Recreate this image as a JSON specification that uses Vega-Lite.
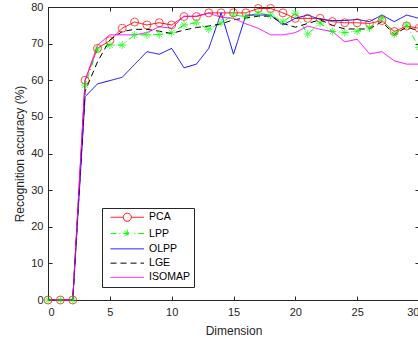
{
  "$schema": "https://vega.github.io/schema/vega-lite/v6.json",
  "width": 371,
  "height": 293,
  "autosize": {"type": "none"},
  "padding": {"left": 48, "top": 7, "right": 0, "bottom": 41},
  "background": "white",
  "config": {
    "view": {"stroke": "#262626", "strokeWidth": 1},
    "font": "Liberation Sans",
    "axis": {
      "domainColor": "#262626",
      "tickColor": "#262626",
      "labelColor": "#262626",
      "titleColor": "#262626",
      "labelFont": "Liberation Sans",
      "titleFont": "Liberation Sans",
      "labelFontSize": 11,
      "titleFontSize": 12,
      "titleFontWeight": "normal",
      "grid": false,
      "tickSize": -4,
      "tickWidth": 1,
      "domainWidth": 1
    }
  },
  "data": {
    "values": [
      {"d": 0, "PCA": 0, "LPP": 0, "OLPP": 0, "LGE": 0, "ISOMAP": 0},
      {"d": 1, "PCA": 0, "LPP": 0, "OLPP": 0, "LGE": 0, "ISOMAP": 0},
      {"d": 2, "PCA": 0, "LPP": 0, "OLPP": 0, "LGE": 0, "ISOMAP": 0},
      {"d": 3, "PCA": 60, "LPP": 58.7, "OLPP": 55.5, "LGE": 57, "ISOMAP": 60},
      {"d": 4, "PCA": 68.7, "LPP": 68.5, "OLPP": 59, "LGE": 65, "ISOMAP": 69.6},
      {"d": 5, "PCA": 70.8, "LPP": 69.6, "OLPP": 59.9, "LGE": 71, "ISOMAP": 72.4},
      {"d": 6, "PCA": 74.2, "LPP": 69.6, "OLPP": 60.8, "LGE": 73.3, "ISOMAP": 72.4},
      {"d": 7, "PCA": 75.9, "LPP": 72.4, "OLPP": 64.3, "LGE": 73.9, "ISOMAP": 72.4},
      {"d": 8, "PCA": 75.1, "LPP": 72.4, "OLPP": 67.8, "LGE": 73.9, "ISOMAP": 73},
      {"d": 9, "PCA": 75.7, "LPP": 72.5, "OLPP": 67.1, "LGE": 73.4, "ISOMAP": 74.6},
      {"d": 10, "PCA": 75.1, "LPP": 73, "OLPP": 68.7, "LGE": 72.8, "ISOMAP": 74.2},
      {"d": 11, "PCA": 77.4, "LPP": 75.1, "OLPP": 63.4, "LGE": 73.7, "ISOMAP": 77.5},
      {"d": 12, "PCA": 77.4, "LPP": 75.7, "OLPP": 64.4, "LGE": 74.4, "ISOMAP": 77.5},
      {"d": 13, "PCA": 78.4, "LPP": 73.9, "OLPP": 68.7, "LGE": 74.8, "ISOMAP": 78.3},
      {"d": 14, "PCA": 78.4, "LPP": 75.7, "OLPP": 78.4, "LGE": 75.4, "ISOMAP": 77.2},
      {"d": 15, "PCA": 78.4, "LPP": 77.8, "OLPP": 67.1, "LGE": 76.5, "ISOMAP": 76.9},
      {"d": 16, "PCA": 78.4, "LPP": 77.4, "OLPP": 77.8, "LGE": 77, "ISOMAP": 75.4},
      {"d": 17, "PCA": 79.6, "LPP": 78.3, "OLPP": 77.8, "LGE": 77.5, "ISOMAP": 74.2},
      {"d": 18, "PCA": 79.6, "LPP": 77.8, "OLPP": 77.8, "LGE": 77.5, "ISOMAP": 72.4},
      {"d": 19, "PCA": 78.4, "LPP": 76, "OLPP": 75.1, "LGE": 75.5, "ISOMAP": 72.4},
      {"d": 20, "PCA": 76.9, "LPP": 78.3, "OLPP": 76.9, "LGE": 74.5, "ISOMAP": 73},
      {"d": 21, "PCA": 76.9, "LPP": 72.6, "OLPP": 77.8, "LGE": 75.5, "ISOMAP": 74.8},
      {"d": 22, "PCA": 76.9, "LPP": 75.6, "OLPP": 76.6, "LGE": 76.5, "ISOMAP": 73.9},
      {"d": 23, "PCA": 76, "LPP": 73.3, "OLPP": 76.3, "LGE": 75, "ISOMAP": 73.3},
      {"d": 24, "PCA": 75.7, "LPP": 73, "OLPP": 76.3, "LGE": 74, "ISOMAP": 70.5},
      {"d": 25, "PCA": 75.7, "LPP": 73.4, "OLPP": 76.6, "LGE": 74, "ISOMAP": 71.2},
      {"d": 26, "PCA": 75.5, "LPP": 74.3, "OLPP": 76, "LGE": 74, "ISOMAP": 67.2},
      {"d": 27, "PCA": 76.3, "LPP": 77, "OLPP": 77.8, "LGE": 76, "ISOMAP": 67.8},
      {"d": 28, "PCA": 73.3, "LPP": 72.6, "OLPP": 76, "LGE": 72.5, "ISOMAP": 65.3},
      {"d": 29, "PCA": 74.8, "LPP": 75.1, "OLPP": 77.8, "LGE": 74.5, "ISOMAP": 64.4},
      {"d": 30, "PCA": 74.2, "LPP": 68.9, "OLPP": 76.9, "LGE": 73.5, "ISOMAP": 64.4}
    ]
  },
  "transform": [
    {"fold": ["PCA", "LPP", "OLPP", "LGE", "ISOMAP"], "as": ["method", "acc"]}
  ],
  "layer": [
    {
      "mark": {"type": "line", "strokeWidth": 1, "clip": false},
      "encoding": {
        "x": {
          "field": "d", "type": "quantitative",
          "scale": {"domain": [0, 30], "nice": false, "zero": false},
          "axis": {"values": [0, 5, 10, 15, 20, 25, 30], "title": "Dimension", "labelPadding": 10, "titlePadding": 8}
        },
        "y": {
          "field": "acc", "type": "quantitative",
          "scale": {"domain": [0, 80], "nice": false},
          "axis": {"values": [0, 10, 20, 30, 40, 50, 60, 70, 80], "title": "Recognition accuracy (%)", "labelPadding": 9, "titlePadding": 4}
        },
        "color": {
          "field": "method", "type": "nominal",
          "scale": {"domain": ["PCA", "LPP", "OLPP", "LGE", "ISOMAP"], "range": ["#ff0000", "#00ff00", "#0000ff", "#000000", "#ff00ff"]},
          "legend": {
            "orient": "none", "legendX": 54, "legendY": 201, "title": null,
            "symbolType": "M-4,0H4", "symbolSize": 70, "symbolStrokeWidth": 1,
            "symbolOffset": 16, "labelOffset": 16.6,
            "labelFont": "Liberation Sans", "labelFontSize": 10.5, "labelColor": "#000000",
            "padding": 4, "rowPadding": 3.3,
            "strokeColor": "#262626", "fillColor": "white",
            "encode": {
              "symbols": {
                "update": {
                  "shape": {"signal": "datum.value === 'PCA' ? 'M-4,0H-0.96M0.96,0H4M-0.96,0A0.96,0.96 0 1,0 0.96,0A0.96,0.96 0 1,0 -0.96,0' : (datum.value === 'LPP' ? 'M-4,0H-2.6M-1.9,0H-1.65M-0.96,0H0.96M1.65,0H1.9M2.6,0H4M0,-0.96V0.96M-0.68,-0.68L0.68,0.68M-0.68,0.68L0.68,-0.68' : 'M-4,0H4')"},
                  "strokeDash": {"signal": "datum.value === 'LGE' ? [6, 4] : [1, 0]"},
                  "fill": {"value": "transparent"}
                }
              }
            }
          }
        },
        "strokeDash": {
          "field": "method", "type": "nominal",
          "scale": {"domain": ["PCA", "LPP", "OLPP", "LGE", "ISOMAP"], "range": [[1, 0], [6, 3, 1, 3], [1, 0], [6, 4], [1, 0]]},
          "legend": {
            "orient": "none", "legendX": 54, "legendY": 201, "title": null,
            "symbolType": "M-4,0H4", "symbolSize": 70, "symbolStrokeWidth": 1,
            "symbolOffset": 16, "labelOffset": 16.6,
            "labelFont": "Liberation Sans", "labelFontSize": 10.5, "labelColor": "#000000",
            "padding": 4, "rowPadding": 3.3,
            "strokeColor": "#262626", "fillColor": "white",
            "encode": {
              "symbols": {
                "update": {
                  "shape": {"signal": "datum.value === 'PCA' ? 'M-4,0H-0.96M0.96,0H4M-0.96,0A0.96,0.96 0 1,0 0.96,0A0.96,0.96 0 1,0 -0.96,0' : (datum.value === 'LPP' ? 'M-4,0H-2.6M-1.9,0H-1.65M-0.96,0H0.96M1.65,0H1.9M2.6,0H4M0,-0.96V0.96M-0.68,-0.68L0.68,0.68M-0.68,0.68L0.68,-0.68' : 'M-4,0H4')"},
                  "strokeDash": {"signal": "datum.value === 'LGE' ? [6, 4] : [1, 0]"},
                  "fill": {"value": "transparent"}
                }
              }
            }
          }
        }
      }
    },
    {
      "transform": [{"filter": {"field": "method", "oneOf": ["PCA", "LPP"]}}],
      "mark": {"type": "point", "filled": false, "strokeWidth": 1, "size": 64, "clip": false},
      "encoding": {
        "x": {
          "field": "d", "type": "quantitative",
          "scale": {"domain": [0, 30], "nice": false, "zero": false},
          "axis": {"orient": "top", "values": [0, 5, 10, 15, 20, 25, 30], "labels": false, "title": null, "domain": false}
        },
        "y": {
          "field": "acc", "type": "quantitative",
          "scale": {"domain": [0, 80], "nice": false},
          "axis": {"orient": "right", "values": [0, 10, 20, 30, 40, 50, 60, 70, 80], "labels": false, "title": null, "domain": false}
        },
        "color": {
          "field": "method", "type": "nominal",
          "scale": {"domain": ["PCA", "LPP", "OLPP", "LGE", "ISOMAP"], "range": ["#ff0000", "#00ff00", "#0000ff", "#000000", "#ff00ff"]}
        },
        "shape": {
          "field": "method", "type": "nominal",
          "scale": {"domain": ["PCA", "LPP"], "range": ["circle", "M-1,0L1,0M0,-1L0,1M-0.7,-0.7L0.7,0.7M-0.7,0.7L0.7,-0.7"]},
          "legend": null
        }
      }
    }
  ],
  "resolve": {"axis": {"x": "independent", "y": "independent"}}
}
